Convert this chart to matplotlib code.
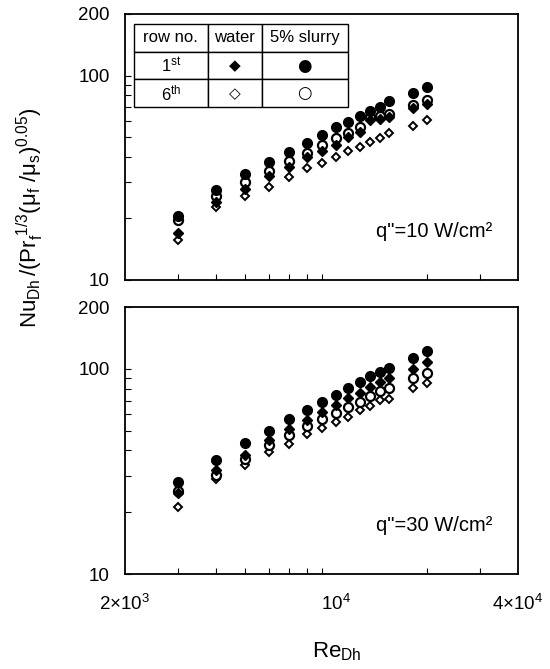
import matplotlib
matplotlib.use("Agg")
import matplotlib.pyplot as plt
from matplotlib.ticker import FixedLocator, NullFormatter

plt.rcParams['font.family'] = ['Liberation Sans', 'DejaVu Sans']
plt.rcParams['mathtext.fontset'] = 'custom'
plt.rcParams['mathtext.rm'] = 'Liberation Sans'
plt.rcParams['mathtext.it'] = 'Liberation Sans'

re = [3000, 4000, 5000, 6000, 7000, 8000, 9000, 10000, 11000, 12000, 13000, 14000, 15000, 18000, 20000]

# q" = 10 W/cm2
q10_slurry_1st = [20.6, 27.5, 33.0, 37.6, 42.4, 46.6, 51.2, 55.8, 59.5, 63.4, 67.3, 70.4, 75.4, 81.8, 87.6]
q10_slurry_6th = [19.7, 25.8, 30.3, 34.3, 38.3, 42.0, 45.7, 49.3, 52.5, 56.2, 62.9, 63.7, 64.9, 71.8, 75.9]
q10_water_1st = [16.9, 24.2, 27.8, 32.3, 35.8, 39.8, 42.9, 45.7, 50.2, 53.2, 60.6, 61.1, 62.9, 69.1, 72.6]
q10_water_6th = [15.6, 22.7, 25.8, 28.5, 32.0, 35.2, 37.5, 40.1, 42.9, 44.6, 47.5, 49.3, 52.2, 56.6, 60.6]

# q" = 30 W/cm2
q30_slurry_1st = [28.1, 36.1, 43.6, 49.6, 57.0, 62.8, 69.0, 74.3, 80.8, 86.1, 92.1, 96.7, 100.4, 113.2, 121.5]
q30_slurry_6th = [25.3, 30.5, 36.5, 42.7, 47.8, 52.8, 57.0, 61.0, 65.2, 68.7, 73.5, 77.5, 80.8, 89.7, 94.9]
q30_water_1st = [24.9, 32.0, 37.9, 44.8, 50.9, 56.5, 61.4, 66.7, 72.2, 76.3, 81.7, 86.1, 90.4, 100.0, 107.8]
q30_water_6th = [21.2, 29.1, 34.1, 39.2, 43.0, 48.3, 51.5, 55.1, 58.3, 62.8, 66.2, 70.3, 71.6, 80.4, 84.8]

xticks = [2000, 10000, 40000]
xticklabels = [r'$\mathregular{2{\times}10^3}$', r'$\mathregular{10^4}$', r'$\mathregular{4{\times}10^4}$']
xminor = [3000, 4000, 5000, 6000, 7000, 8000, 9000, 20000, 30000]
yticks = [10, 100, 200]
yticklabels = ['10', '100', '200']
yminor = [20, 30, 40, 50, 60, 70, 80, 90]

fig = plt.figure(figsize=(5.5, 6.69), dpi=100)
ax1 = fig.add_axes([0.227, 0.5815, 0.7145, 0.3976])
ax2 = fig.add_axes([0.227, 0.1420, 0.7145, 0.3991])

def style(ax, show_x):
    ax.set_xscale('log')
    ax.set_yscale('log')
    ax.set_xlim(2000, 40000)
    ax.set_ylim(10, 200)
    ax.set_xticks(xticks)
    ax.xaxis.set_minor_locator(FixedLocator(xminor))
    ax.xaxis.set_minor_formatter(NullFormatter())
    if show_x:
        ax.set_xticklabels(xticklabels)
    else:
        ax.set_xticklabels([])
    ax.set_yticks(yticks)
    ax.set_yticklabels(yticklabels)
    ax.yaxis.set_minor_locator(FixedLocator(yminor))
    ax.yaxis.set_minor_formatter(NullFormatter())
    ax.tick_params(which='both', direction='in', top=False, right=False,
                   labelsize=13.5, width=0.8)
    ax.tick_params(which='major', length=4, pad=11)
    ax.tick_params(which='minor', length=4)
    ax.tick_params(axis='x', which='major', length=0, pad=14)
    for s in ax.spines.values():
        s.set_linewidth(1.3)

def plot_set(ax, s1, s6, w1, w6):
    ax.plot(re, w6, linestyle='none', marker='D', ms=4.5, mfc='white', mec='black', mew=1.4)
    ax.plot(re, s6, linestyle='none', marker='o', ms=6.5, mfc='white', mec='black', mew=1.6)
    ax.plot(re, w1, linestyle='none', marker='D', ms=4.7, mfc='black', mec='black', mew=1.0)
    ax.plot(re, s1, linestyle='none', marker='o', ms=7, mfc='black', mec='black', mew=1.0)

plot_set(ax1, q10_slurry_1st, q10_slurry_6th, q10_water_1st, q10_water_6th)
plot_set(ax2, q30_slurry_1st, q30_slurry_6th, q30_water_1st, q30_water_6th)
style(ax1, False)
style(ax2, True)

ax1.text(0.936, 0.184, 'q"=10 W/cm²', transform=ax1.transAxes, ha='right', va='center', fontsize=14.5)
ax2.text(0.936, 0.18, 'q"=30 W/cm²', transform=ax2.transAxes, ha='right', va='center', fontsize=14.5)

# legend table
cells = [['row no.', 'water', '5% slurry'],
         [r'1$\mathregular{^{st}}$', '◆', '●'],
         [r'6$\mathregular{^{th}}$', '◇', '○']]
tbl = ax1.table(cellText=cells, cellLoc='center', colWidths=[0.346, 0.252, 0.402],
                bbox=[0.023, 0.650, 0.544, 0.312])
tbl.auto_set_font_size(False)
for (r, c), cell in tbl.get_celld().items():
    cell.set_linewidth(1.0)
    cell.set_edgecolor('black')
    cell.PAD = 0.02
    txt = cell.get_text()
    if r == 0 or c == 0:
        txt.set_fontsize(12)
    elif c == 1:
        txt.set_fontsize(11)
        txt.set_family(['DejaVu Sans'])
    else:
        txt.set_fontsize(12)
        txt.set_family(['DejaVu Sans'])

fig.text(0.613, 0.017, r'$\mathregular{Re_{Dh}}$', ha='center', va='baseline', fontsize=16)
fig.text(0.055, 0.674, r'$\mathregular{Nu_{Dh}\,/(Pr_f^{\ 1/3}(\mu_f\ /\mu_s)^{0.05})}$',
         rotation=90, ha='center', va='center', fontsize=16)

fig.savefig('out.png', dpi=100)
